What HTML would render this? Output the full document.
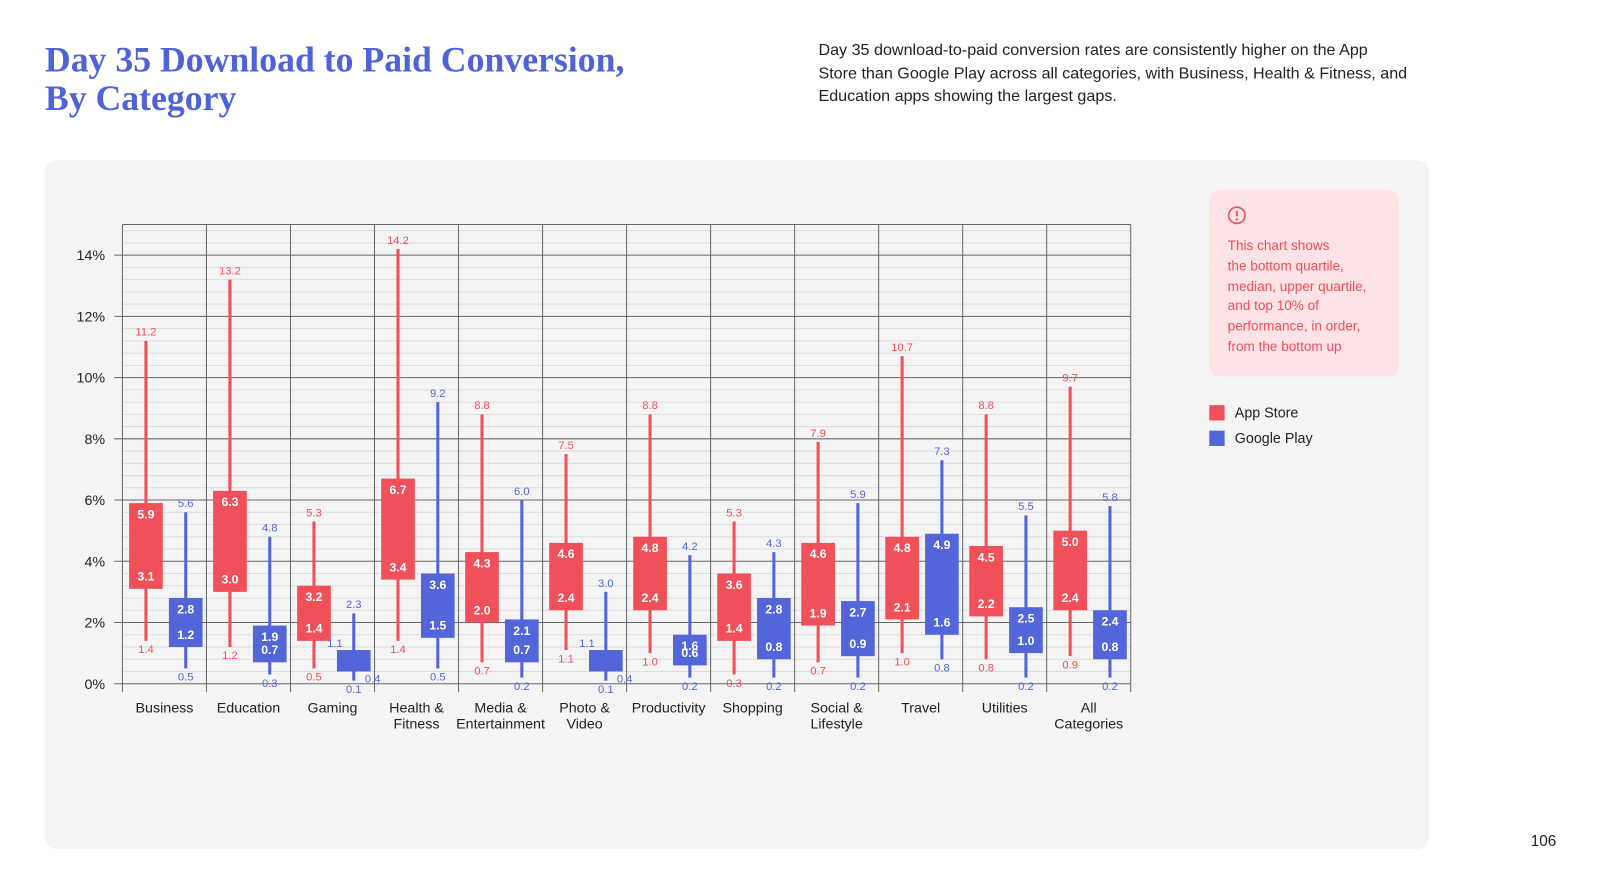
<!DOCTYPE html>
<html><head><meta charset="utf-8">
<style>
body{margin:0;width:1600px;height:880px;background:#fff;font-family:"Liberation Sans",sans-serif;overflow:hidden}
#wrap{position:absolute;left:0;top:0;width:1568px;height:862px;transform:scale(1.0205);transform-origin:0 0}
.title{position:absolute;left:44px;top:40px;font-family:"Liberation Serif",serif;font-weight:bold;color:#4f63d9;font-size:35px;line-height:38px;margin:0}
.desc{position:absolute;left:802px;top:39px;width:580px;font-size:15.8px;line-height:22.5px;color:#222}
.panel{position:absolute;left:44px;top:157px;width:1356px;height:675px;background:#f4f4f4;border-radius:12px}
.note{position:absolute;left:1185px;top:186px;width:186px;height:183px;background:#fde3e5;border-radius:10px}
.note p{position:absolute;left:18px;top:45px;margin:0;color:#ef4f5a;font-size:13.3px;line-height:19.8px;white-space:nowrap}
.leg{position:absolute;left:1185px;font-size:14px;color:#222}
.leg span{display:inline-block;width:15px;height:15px;vertical-align:-3px;margin-right:10px}
.pg{position:absolute;left:1500px;top:816px;font-size:15px;color:#222}
</style></head><body>
<div id="wrap">
<h1 class="title">Day 35 Download to Paid Conversion,<br>By Category</h1>
<div class="desc">Day 35 download-to-paid conversion rates are consistently higher on the App Store than Google Play across all categories, with Business, Health &amp; Fitness, and Education apps showing the largest gaps.</div>
<div class="panel"></div>
<div class="note">
<svg style="position:absolute;left:17px;top:15px" width="20" height="20"><circle cx="10" cy="10" r="8" fill="none" stroke="#ef4f5a" stroke-width="1.6"/><line x1="10" y1="5.5" x2="10" y2="11" stroke="#ef4f5a" stroke-width="1.8"/><circle cx="10" cy="14" r="1.1" fill="#ef4f5a"/></svg>
<p>This chart shows<br>the bottom quartile,<br>median, upper quartile,<br>and top 10% of<br>performance, in order,<br>from the bottom up</p></div>
<div class="leg" style="top:396px"><span style="background:#ef5059"></span>App Store</div>
<div class="leg" style="top:421px"><span style="background:#5366d9"></span>Google Play</div>
<div class="pg">106</div>
<svg id="chart" width="1568" height="862" style="position:absolute;left:0;top:0"></svg>
</div>
<script>
const categories=["Business","Education","Gaming","Health &\nFitness","Media &\nEntertainment","Photo &\nVideo","Productivity","Shopping","Social &\nLifestyle","Travel","Utilities","All\nCategories"];
const appMin=[1.4,1.2,0.5,1.4,0.7,1.1,1.0,0.3,0.7,1.0,0.8,0.9];
const appQ1=[3.1,3.0,1.4,3.4,2.0,2.4,2.4,1.4,1.9,2.1,2.2,2.4];
const appQ3=[5.9,6.3,3.2,6.7,4.3,4.6,4.8,3.6,4.6,4.8,4.5,5.0];
const appMax=[11.2,13.2,5.3,14.2,8.8,7.5,8.8,5.3,7.9,10.7,8.8,9.7];
const gpMin=[0.5,0.3,0.1,0.5,0.2,0.1,0.2,0.2,0.2,0.8,0.2,0.2];
const gpQ1=[1.2,0.7,0.4,1.5,0.7,0.4,0.6,0.8,0.9,1.6,1.0,0.8];
const gpQ3=[2.8,1.9,1.1,3.6,2.1,1.1,1.6,2.8,2.7,4.9,2.5,2.4];
const gpMax=[5.6,4.8,2.3,9.2,6.0,3.0,4.2,4.3,5.9,7.3,5.5,5.8];
const yTicks=[0,2,4,6,8,10,12,14];
const svg=document.getElementById('chart');const NS="http://www.w3.org/2000/svg";
const X0=120,X1=1108,Y0=670,YMAX=15,TOP=220;
const y=v=>Y0-(v/YMAX)*(Y0-TOP);
const cw=(X1-X0)/categories.length;
function mk(t,a){const e=document.createElementNS(NS,t);for(const k in a)e.setAttribute(k,a[k]);svg.appendChild(e);return e;}
function tx(x,yy,s,fill,size,anchor,weight){const e=mk('text',{x:x,y:yy,fill:fill,'font-size':size,'text-anchor':anchor||'middle','font-family':'Liberation Sans, sans-serif','font-weight':weight||'normal'});e.textContent=s;return e;}
for(let v=0;v<=YMAX+0.001;v+=0.4){if(Math.abs(v/2-Math.round(v/2))<0.01)continue;const l=mk('line',{x1:X0,x2:X1,y1:y(v),y2:y(v),stroke:'#dcdcdc','stroke-width':1});}
yTicks.forEach(t=>{const l=mk('line',{x1:X0-8,x2:X1,y1:y(t),y2:y(t),stroke:'#666','stroke-width':1});
const e=tx(103,y(t)+5,t+'%','#222',14,'end');});
mk('line',{x1:X0,x2:X1,y1:TOP,y2:TOP,stroke:'#666'});
for(let i=0;i<=categories.length;i++){const x=X0+i*cw;const l=mk('line',{x1:x,x2:x,y1:TOP,y2:Y0+8,stroke:'#666'});}
function box(cx,mn,q1,q3,mx,col,name){
 const w=33;
 const wl=mk('line',{x1:cx,x2:cx,y1:y(mx),y2:y(mn),stroke:col,'stroke-width':3});
 const r=mk('rect',{x:cx-w/2,y:y(q3),width:w,height:y(q1)-y(q3),fill:col});
 tx(cx,y(mx)-5,mx.toFixed(1),col,11);
 const small=(y(q1)-y(q3))<30;
 if(small){tx(cx-w/2-2,y(q3)-3,q3.toFixed(1),col,11,'middle');tx(cx+w/2+2,y(q1)+11,q1.toFixed(1),col,11,'middle');}
 else{tx(cx,y(q3)+15,q3.toFixed(1),'#fff',12,'middle','bold');tx(cx,y(q1)-8,q1.toFixed(1),'#fff',12,'middle','bold');}
 tx(cx,y(mn)+12,mn.toFixed(1),col,11);
}
categories.forEach((c,i)=>{const x0=X0+i*cw;
 box(x0+23,appMin[i],appQ1[i],appQ3[i],appMax[i],'#ef5059','app-store-'+i);
 box(x0+62,gpMin[i],gpQ1[i],gpQ3[i],gpMax[i],'#5366d9','google-play-'+i);
 c.split('\n').forEach((s,j)=>{const e=tx(x0+cw/2,698+j*16,s,'#222',14);});
});
</script>
</body></html>
